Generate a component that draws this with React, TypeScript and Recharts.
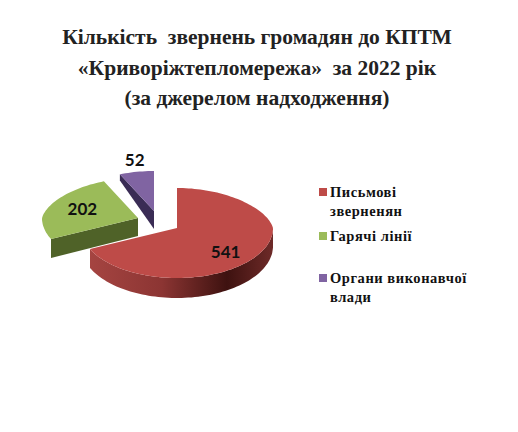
import { PieChart, Pie, Cell, Legend } from "recharts";

const categories = ["Письмові зверненян", "Гарячі лінії", "Органи виконавчої влади"];
const values = [541, 202, 52];
const titleLines = [
	"Кількість  звернень громадян до КПТМ",
	"«Криворіжтепломережа»  за 2022 рік",
	"(за джерелом надходження)",
];

const topColors = ["#be4b48", "#9bbb59", "#8064a2"];
const edgeColors = ["url(#redWall)", "#4f6228", "#3a2c55"];
// how far each slice is pulled out of the pie centre
const explode = [
	{ dx: 0, dy: 0 },
	{ dx: -39, dy: -10 },
	{ dx: -23, dy: -17 },
];
const labelSpots = [
	{ f: 0.6, dx: 0, dy: 7 },
	{ f: 0.6, dx: -4, dy: -1 },
	{ f: 1, dx: -2, dy: -12 },
];
const legendGaps = [0, 6, 23];

const serif = "'Liberation Serif', serif";
const RAD = Math.PI / 180;

// tilted projection: back of the disc is flatter and narrower than the front
function project(cx: number, cy: number, R: number, deg: number, r: number) {
	const s = Math.sin(deg * RAD);
	const c = Math.cos(deg * RAD);
	const narrow = 1 - 0.12 * Math.max(0, s);
	return {
		x: cx + r * c * narrow,
		y: cy - (r * s * (s > 0 ? 40 : 50)) / 96,
		depth: 18 - (s > 0 ? 13 : 2) * s * (r / R),
	};
}

function toPath(points: { x: number; y: number }[]) {
	return points.map((p, i) => `${i ? "L" : "M"}${p.x.toFixed(1)} ${p.y.toFixed(1)}`).join(" ") + " Z";
}

function arcAngles(from: number, to: number) {
	const out: number[] = [];
	const n = Math.max(2, Math.ceil(Math.abs(to - from) / 2));
	for (let i = 0; i <= n; i++) out.push(from + ((to - from) * i) / n);
	return out;
}

function Slice3D(props: any) {
	const { cx, cy, outerRadius: R, startAngle, endAngle, index, fill } = props;
	const ox = cx + explode[index].dx;
	const oy = cy + explode[index].dy;
	const rim = arcAngles(startAngle, endAngle).map((a) => project(ox, oy, R, a, R));
	const apex = project(ox, oy, R, 0, 0);
	const top = [apex, ...rim];

	// outer wall: only the big slice shows its rim
	const front = arcAngles(startAngle, endAngle)
		.filter((a) => Math.sin(a * RAD) <= 0.001)
		.map((a) => project(ox, oy, R, a, R));
	const outerWall = [...front, ...[...front].reverse().map((p) => ({ x: p.x, y: p.y + p.depth }))];

	// cut wall: the straight edge facing the viewer (green's first edge, purple's first edge)
	const edgeEnd = project(ox, oy, R, startAngle, R);
	const cutWall = [
		apex,
		edgeEnd,
		{ x: edgeEnd.x, y: edgeEnd.y + edgeEnd.depth },
		{ x: apex.x, y: apex.y + apex.depth },
	];

	return (
		<g>
			<defs>
				<linearGradient id="redWall" gradientUnits="userSpaceOnUse" x1={cx - R} x2={cx + R} y1={0} y2={0}>
					<stop offset="0" stopColor="#a84643" />
					<stop offset="0.42" stopColor="#8c3533" />
					<stop offset="0.76" stopColor="#3e1210" />
					<stop offset="1" stopColor="#6e2a28" />
				</linearGradient>
			</defs>
			{index !== 0 && <path d={toPath(cutWall)} fill={edgeColors[index]} />}
			{index === 0 && <path d={toPath(outerWall)} fill={edgeColors[index]} />}
			<path d={toPath(top)} fill={fill} />
		</g>
	);
}

function SliceLabel(props: any) {
	const { cx, cy, outerRadius: R, midAngle, index, value } = props;
	const spot = labelSpots[index];
	const p = project(cx + explode[index].dx, cy + explode[index].dy, R, midAngle, R * spot.f);
	return (
		<text
			x={p.x + spot.dx}
			y={p.y + spot.dy}
			textAnchor="middle"
			dominantBaseline="central"
			fontFamily="Lato, sans-serif"
			fontWeight={700}
			fontSize={17}
			fill="#111"
		>
			{value}
		</text>
	);
}

function LegendList({ payload }: any) {
	return (
		<div style={{ fontFamily: serif, fontWeight: 700, fontSize: 14.5, lineHeight: "19px", letterSpacing: 0.55, color: "#111" }}>
			{(payload || []).map((entry: any, i: number) => (
				<div key={i} style={{ position: "relative", paddingLeft: 11, marginTop: legendGaps[i] }}>
					<span
						style={{ position: "absolute", left: 0, top: 5, width: 8, height: 8, background: entry.color }}
					/>
					{entry.value}
				</div>
			))}
		</div>
	);
}

export default function App() {
	const data = categories.map((name, i) => ({ name, value: values[i] }));
	return (
		<div style={{ position: "absolute", left: 0, top: 0, width: 518, height: 432, background: "#fff" }}>
			<div
				style={{
					position: "absolute",
					left: 0,
					top: 22,
					width: 514,
					textAlign: "center",
					fontFamily: serif,
					fontWeight: 700,
					fontSize: 21.5,
					lineHeight: "30.5px",
					color: "#222",
					whiteSpace: "pre",
				}}
			>
				{titleLines.map((line) => (
					<div key={line}>{line}</div>
				))}
			</div>
			<PieChart width={518} height={432} margin={{ top: 0, right: 0, bottom: 0, left: 0 }}>
				<Legend
					layout="vertical"
					align="right"
					verticalAlign="top"
					itemSorter={null}
					content={<LegendList />}
					wrapperStyle={{ left: 319, top: 183, width: 152 }}
				/>
				<Pie
					data={data}
					dataKey="value"
					nameKey="name"
					cx={177}
					cy={228}
					outerRadius={96}
					startAngle={90}
					endAngle={-270}
					stroke="none"
					isAnimationActive={false}
					shape={Slice3D}
					label={SliceLabel}
					labelLine={false}
				>
					{data.map((d, i) => (
						<Cell key={d.name} fill={topColors[i]} />
					))}
				</Pie>
			</PieChart>
		</div>
	);
}
